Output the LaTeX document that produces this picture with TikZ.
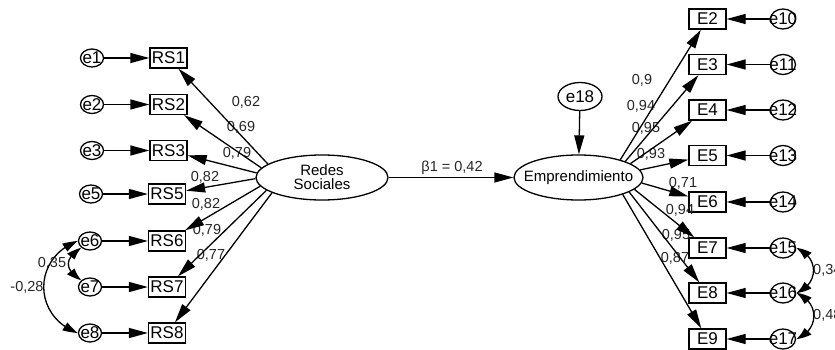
\documentclass[tikz,border=0pt]{standalone}
\usepackage{fontspec}
\setmainfont{Liberation Sans}
\usetikzlibrary{shapes.geometric,arrows.meta,bending}
\begin{document}
\begin{tikzpicture}[x=1pt,y=1pt,
 obs/.style={draw, rectangle, minimum width=37pt, minimum height=20pt, inner sep=0pt, line width=1.3pt, font=\fontsize{17}{17}\selectfont},
 err/.style={draw, ellipse, minimum width=23pt, minimum height=18pt, inner sep=0pt, line width=1.3pt},
 errr/.style={err, minimum width=25pt, minimum height=20pt},
 elab/.style={font=\fontsize{17}{17}\selectfont, inner sep=0pt},
 lat/.style={draw, ellipse, minimum width=132pt, minimum height=45pt, inner sep=0pt, line width=1.3pt},
 latlab/.style={font=\fontsize{15}{14}\selectfont, inner sep=0pt, align=center},
 coef/.style={font=\fontsize{14.5}{14.5}\selectfont, inner sep=0pt, text=black!85},
 arr/.style={line width=1.3pt, -{Triangle[length=19pt,width=10pt]}},
 cov/.style={line width=1.3pt, {Triangle[length=15pt,width=9pt,bend]}-{Triangle[length=15pt,width=9pt,bend]}},
]
\useasboundingbox (0,0) rectangle (835,-350);

% left indicators and errors
\node[obs] (RS1) at (168.5,-58) {RS1};
\node[obs] (RS2) at (168.5,-104.5) {RS2};
\node[obs] (RS3) at (168.5,-150.5) {RS3};
\node[obs] (RS5) at (167,-194) {RS5};
\node[obs] (RS6) at (167,-241) {RS6};
\node[obs] (RS7) at (167,-287) {RS7};
\node[obs] (RS8) at (167,-333) {RS8};
\node[err,label={[elab]center:e1}] (e1) at (92,-58) {};
\node[err,label={[elab]center:e2}] (e2) at (92,-104.5) {};
\node[err,label={[elab]center:e3}] (e3) at (92,-150.5) {};
\node[err,label={[elab]center:e5}] (e5) at (91,-194) {};
\node[err,label={[elab]center:e6}] (e6) at (90,-241) {};
\node[err,label={[elab]center:e7}] (e7) at (90,-287) {};
\node[err,label={[elab]center:e8}] (e8) at (90,-333) {};

% latents
\node[lat,label={[latlab]center:Redes\\Sociales}] (rs) at (322,-177.5) {};
\node[lat,minimum width=129pt,label={[latlab]center:Emprendimiento}] (emp) at (578.5,-177.5) {};
\node[err,minimum width=44pt,minimum height=28pt,label={[elab]center:e18}] (e18) at (580,-96.5) {};

% right indicators and errors
\node[obs] (E2) at (707.5,-19) {E2};
\node[obs] (E3) at (707.5,-64.5) {E3};
\node[obs] (E4) at (707.5,-110) {E4};
\node[obs] (E5) at (707.5,-155.5) {E5};
\node[obs] (E6) at (707.5,-202) {E6};
\node[obs] (E7) at (707.5,-248) {E7};
\node[obs] (E8) at (707.5,-293) {E8};
\node[obs] (E9) at (707.5,-339) {E9};
\node[errr,label={[elab]center:e10}] (e10) at (783,-19) {};
\node[errr,label={[elab]center:e11}] (e11) at (783,-64.5) {};
\node[errr,label={[elab]center:e12}] (e12) at (783,-110) {};
\node[errr,label={[elab]center:e13}] (e13) at (783,-155.5) {};
\node[errr,label={[elab]center:e14}] (e14) at (783,-202) {};
\node[errr,label={[elab]center:e15}] (e15) at (783,-248) {};
\node[errr,label={[elab]center:e16}] (e16) at (783,-293) {};
\node[errr,label={[elab]center:e17}] (e17) at (783,-339) {};

% coefficient labels
\node[coef] (c1) at (246,-102) {0,62};
\node[coef] (c2) at (241,-127) {0,69};
\node[coef] (c3) at (237,-153) {0,79};
\node[coef] (c5) at (205,-177) {0,82};
\node[coef] (c6) at (206,-204) {0,82};
\node[coef] (c7) at (207,-230) {0,79};
\node[coef] (c8) at (211,-255) {0,77};
\node[coef] (d2) at (642,-80) {0,9};
\node[coef] (d3) at (641,-106) {0,94};
\node[coef] (d4) at (646,-128) {0,95};
\node[coef] (d5) at (651,-154) {0,93};
\node[coef] (d6) at (683,-183) {0,71};
\node[coef] (d7) at (680,-210) {0,94};
\node[coef] (d8) at (676,-235) {0,95};
\node[coef] (d9) at (675,-258) {0,87};
\node[coef] (beta) at (452,-168) {β1 = 0,42};
\node[coef] (k1) at (52,-263) {0,35};
\node[coef] (k2) at (27,-287) {-0,28};
\node[coef,anchor=west] (k3) at (813,-270) {0,34};
\node[coef,anchor=west] (k4) at (813,-315) {0,48};

% error arrows
\foreach \a/\b in {e1/RS1,e2/RS2,e3/RS3,e5/RS5,e6/RS6,e7/RS7,e8/RS8,
  e10/E2,e11/E3,e12/E4,e13/E5,e14/E6,e15/E7,e16/E8,e17/E9}
  \draw[arr] (\a) -- (\b);

% loadings
\draw[arr] (rs.166) -- (RS1);
\draw[arr] (rs.171) -- (RS2);
\draw[arr] (rs.176) -- (RS3);
\draw[arr] (rs.181) -- (RS5);
\draw[arr] (rs.188) -- (RS6);
\draw[arr] (rs.193) -- (RS7);
\draw[arr] (rs.197) -- (RS8);
\draw[arr] (emp.23) -- (E2);
\draw[arr] (emp.19) -- (E3);
\draw[arr] (emp.15) -- (E4);
\draw[arr] (emp.7) -- (E5);
\draw[arr] (emp.-5) -- (E6);
\draw[arr] (emp.-12) -- (E7);
\draw[arr] (emp.-16) -- (E8);
\draw[arr] (emp.-21) -- (E9);

% structural
\draw[arr] (rs) -- (emp);
\draw[arr] (e18) -- (emp);

% covariances
\draw[cov] (e6.south west) to[out=210,in=150,looseness=1.6] (e7.north west);
\draw[cov] (e6.west) to[out=200,in=160,looseness=1.35] (e8.west);
\draw[cov] (e15.east) to[out=-20,in=20,looseness=1.4] (e16.east);
\draw[cov] (e16.east) to[out=-20,in=20,looseness=1.4] (e17.east);
\end{tikzpicture}
\end{document}
